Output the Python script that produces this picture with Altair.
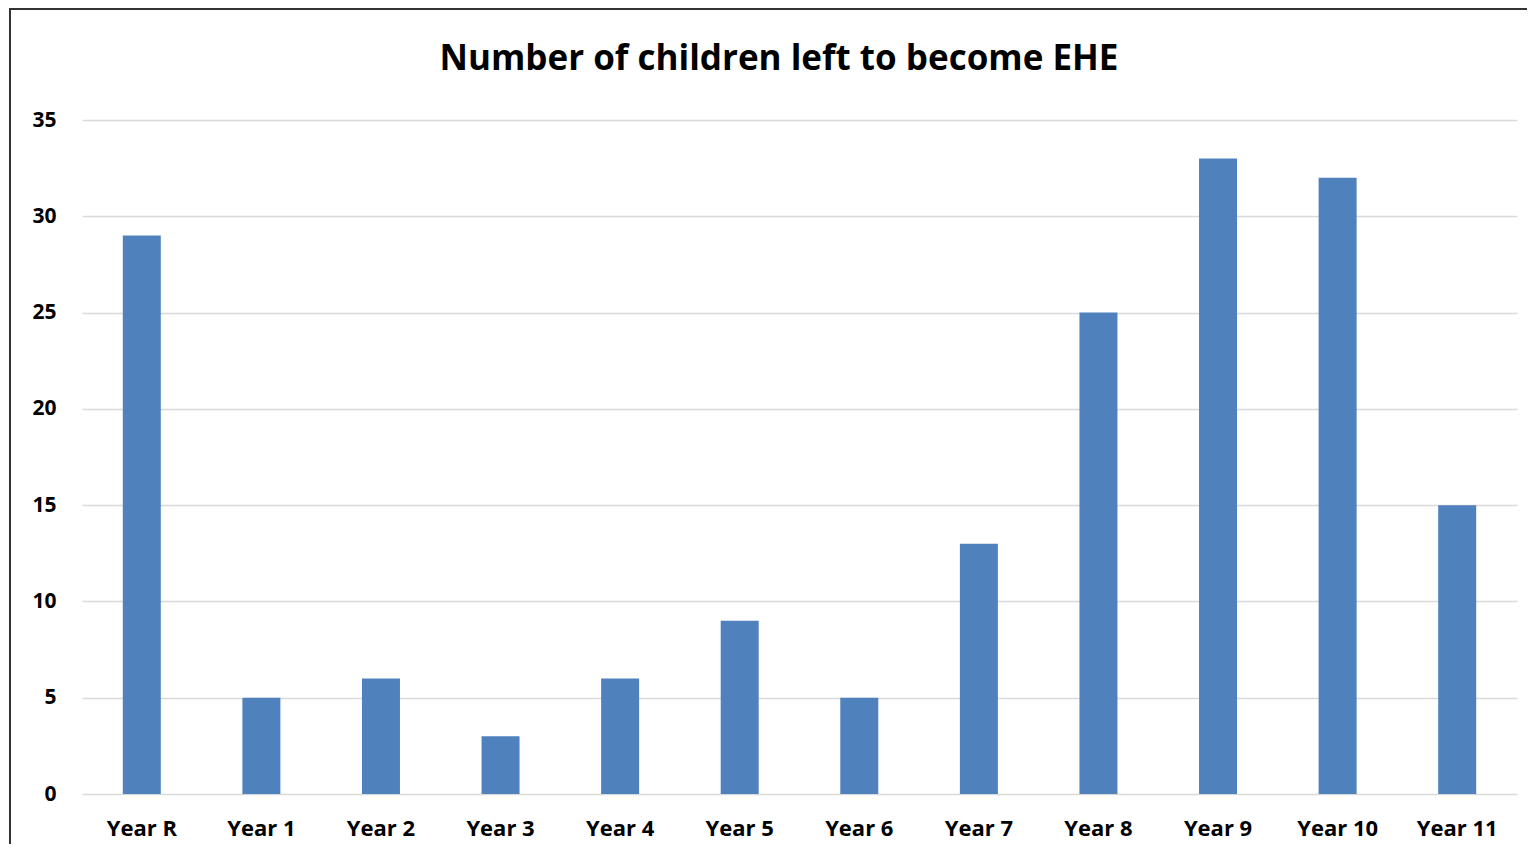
import altair as alt
import pandas as pd

categories = ["Year R", "Year 1", "Year 2", "Year 3", "Year 4", "Year 5",
              "Year 6", "Year 7", "Year 8", "Year 9", "Year 10", "Year 11"]
counts = [29, 5, 6, 3, 6, 9, 5, 13, 25, 33, 32, 15]
y_ticks = [0, 5, 10, 15, 20, 25, 30, 35]
title_text = "Number of children left to become EHE"

df = pd.DataFrame({"year": categories, "count": counts})

FONT = "Open Sans"

bars = alt.Chart(df).mark_bar(color="#4F81BD", size=38).encode(
    x=alt.X("year:N", sort=categories, title=None,
            scale=alt.Scale(paddingInner=0, paddingOuter=0),
            axis=alt.Axis(labelAngle=0, labelFont=FONT, labelFontSize=22,
                          labelFontWeight="bold", labelColor="#000000",
                          labelPadding=24, ticks=False, domain=False,
                          grid=False)),
    y=alt.Y("count:Q", title=None,
            scale=alt.Scale(domain=[0, 35], nice=False),
            axis=alt.Axis(values=y_ticks, labelFont=FONT, labelFontSize=21,
                          labelFontWeight="bold", labelColor="#000000",
                          labelPadding=26, ticks=False, domain=False,
                          gridColor="#D9D9D9", gridWidth=1.3)),
)

one = pd.DataFrame({"t": [title_text]})
title = alt.Chart(one).mark_text(font=FONT, fontSize=35, fontWeight="bold",
                                 color="#000000", align="center",
                                 baseline="alphabetic").encode(
    text="t:N", x=alt.value(697), y=alt.value(-50))

left_edge = alt.Chart(one).mark_rule(color="#333333", strokeWidth=2).encode(
    x=alt.value(-72), y=alt.value(-111), y2=alt.value(760))
top_edge = alt.Chart(one).mark_rule(color="#333333", strokeWidth=2).encode(
    y=alt.value(-111), x=alt.value(-73), x2=alt.value(1460))

chart = alt.layer(bars, title, left_edge, top_edge).properties(
    width=1435, height=674,
    background="white",
    autosize=alt.AutoSizeParams(type="none"),
    padding={"left": 74, "top": 112, "right": 10, "bottom": 50},
).configure_view(strokeWidth=0, stroke="transparent")

chart.save("out.html", embed_options={"renderer": "svg", "actions": False})
